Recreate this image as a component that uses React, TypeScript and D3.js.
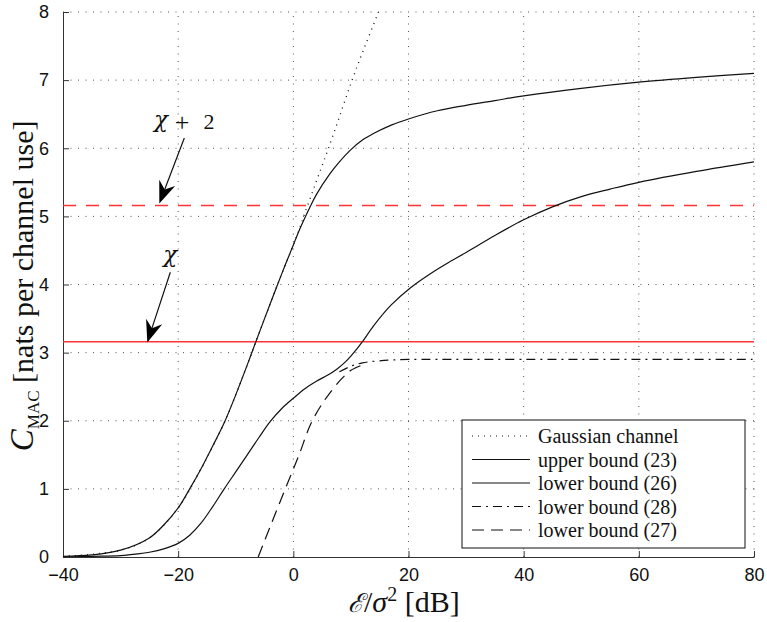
import React, {useEffect, useRef} from 'react'
import * as d3 from 'd3'

// axis ticks
const xTicks = [-40, -20, 0, 20, 40, 60, 80]
const yTicks = [0, 1, 2, 3, 4, 5, 6, 7, 8]

// Gaussian channel (dotted)
const gaussX = [-40, -30, -25, -20, -16, -12, -10, -8, -6.6, -4, -2, 0, 1.2, 2, 3.25, 4.5, 6.1, 8, 10.2, 12.3, 14.5, 15]
const gaussY = [0.01, 0.1, 0.28, 0.72, 1.3, 1.97, 2.38, 2.82, 3.14, 3.72, 4.16, 4.58, 4.85, 5.05, 5.34, 5.63, 6.0, 6.46, 7.0, 7.47, 7.94, 8.06]

// upper bound (23)
const upperX = [-40, -35, -30, -25, -22.5, -20, -18, -16, -14, -12, -10, -8, -6.6, -4, -2, 0, 1.2, 2.8, 4, 6.4, 8, 10, 12, 14, 17, 20, 25, 30, 35, 40, 50, 60, 70, 80]
const upperY = [0.01, 0.03, 0.1, 0.28, 0.47, 0.72, 1.0, 1.3, 1.63, 1.97, 2.38, 2.82, 3.14, 3.72, 4.16, 4.58, 4.83, 5.12, 5.32, 5.63, 5.8, 5.98, 6.12, 6.22, 6.34, 6.43, 6.55, 6.63, 6.7, 6.77, 6.88, 6.97, 7.04, 7.1]

// lower bound (26)
const lower26X = [-40, -35, -30, -27, -25, -22.5, -20, -18, -16, -14, -12, -10, -8, -6, -4, -2, 0, 2, 4, 6, 7.6, 9, 10, 11, 12, 14, 17, 20.3, 24, 27.3, 30, 35, 40, 45, 50, 55, 60, 70, 80]
const lower26Y = [0, 0.01, 0.02, 0.045, 0.07, 0.12, 0.2, 0.32, 0.5, 0.74, 1.0, 1.25, 1.5, 1.75, 1.99, 2.18, 2.33, 2.47, 2.58, 2.67, 2.76, 2.86, 2.95, 3.05, 3.16, 3.4, 3.7, 3.95, 4.17, 4.34, 4.47, 4.72, 4.95, 5.14, 5.29, 5.4, 5.5, 5.66, 5.8]

// lower bound (28) (dash-dot)
const lower28X = [8, 10, 12, 15, 20, 30, 50, 80]
const lower28Y = [2.72, 2.8, 2.85, 2.88, 2.9, 2.9, 2.9, 2.9]

// lower bound (27) (dashed)
const lower27X = [-6.1, -4, -1.4, 1, 3, 5, 6.1, 8.2, 10, 12]
const lower27Y = [0, 0.45, 1.0, 1.5, 1.95, 2.25, 2.38, 2.6, 2.74, 2.82]

const chi = 3.16
const chiPlus2 = 5.16

const legendNames = ['Gaussian channel', 'upper bound (23)', 'lower bound (26)', 'lower bound (28)', 'lower bound (27)']
const legendDash = ['1,5', null, null, '9,5,2,5', '12,7']

const zip = (xs: number[], ys: number[]) => xs.map((x, i) => [x, ys[i]] as [number, number])

export default function App() {
  const ref = useRef<SVGSVGElement>(null)

  useEffect(() => {
    document.body.style.margin = '0'
    const svg = d3.select(ref.current)
    svg.selectAll('*').remove()

    const x = d3.scaleLinear().domain([-40, 80]).range([63, 754])
    const y = d3.scaleLinear().domain([0, 8]).range([557, 12])
    const [x0, x1] = x.range()
    const [y0, y1] = y.range()

    svg.append('defs').append('clipPath').attr('id', 'plot')
      .append('rect').attr('x', x0).attr('y', y1).attr('width', x1 - x0).attr('height', y0 - y1)

    // dotted grid
    const grid = svg.append('g').attr('stroke', '#555').attr('stroke-width', 1).attr('stroke-dasharray', '1,6.5')
    grid.selectAll('line.v').data(xTicks.slice(1)).enter().append('line')
      .attr('x1', (d) => x(d)).attr('x2', (d) => x(d)).attr('y1', y0).attr('y2', y1)
    grid.selectAll('line.h').data(yTicks.slice(1)).enter().append('line')
      .attr('y1', (d) => y(d)).attr('y2', (d) => y(d)).attr('x1', x0).attr('x2', x1)

    // axes
    const xAxis = d3.axisBottom(x).tickValues(xTicks).tickSizeInner(-6).tickSizeOuter(0).tickPadding(11)
      .tickFormat((d) => d3.format('')(d as number))
    const yAxis = d3.axisLeft(y).tickValues(yTicks).tickSizeInner(-6).tickSizeOuter(0).tickPadding(14)
    const gx = svg.append('g').attr('transform', `translate(0,${y0})`).call(xAxis)
    const gy = svg.append('g').attr('transform', `translate(${x0},0)`).call(yAxis)
    for (const g of [gx, gy]) {
      g.select('.domain').attr('stroke', '#333')
      g.selectAll('.tick line').attr('stroke', '#333')
      g.selectAll('.tick text').attr('fill', '#111').style('font-family', '"Liberation Sans", Arial, sans-serif').style('font-size', '18px')
    }

    // reference lines
    svg.append('line').attr('x1', x0).attr('x2', x1).attr('y1', y(chi)).attr('y2', y(chi))
      .attr('stroke', '#f33').attr('stroke-width', 1.3)
    svg.append('line').attr('x1', x0).attr('x2', x1).attr('y1', y(chiPlus2)).attr('y2', y(chiPlus2))
      .attr('stroke', '#f33').attr('stroke-width', 1.3).attr('stroke-dasharray', '13,10')

    const line = d3.line<[number, number]>().x((d) => x(d[0])).y((d) => y(d[1])).curve(d3.curveCatmullRom.alpha(0.5))
    const curves = svg.append('g').attr('clip-path', 'url(#plot)').attr('fill', 'none').attr('stroke', '#111')
    const series = [
      {data: zip(gaussX, gaussY), dash: '1,5'},
      {data: zip(upperX, upperY), dash: null},
      {data: zip(lower26X, lower26Y), dash: null},
      {data: zip(lower28X, lower28Y), dash: '9,5,2,5'},
      {data: zip(lower27X, lower27Y), dash: '12,7'},
    ]
    series.forEach((s) => {
      curves.append('path').attr('d', line(s.data)).attr('stroke-width', s.dash === '1,5' ? 1.3 : 1.2)
        .attr('stroke-dasharray', s.dash)
    })

    // annotations
    const arrow = (fx: number, fy: number, tx: number, ty: number) => {
      const ax = x(fx), ay = y(fy), bx = x(tx), by = y(ty)
      const ang = Math.atan2(by - ay, bx - ax)
      const L = 22, W = 8.5, N = 15
      const ux = Math.cos(ang), uy = Math.sin(ang)
      const px = -uy, py = ux
      const bx1 = bx - ux * L, by1 = by - uy * L
      const nx = bx - ux * N, ny = by - uy * N
      svg.append('line').attr('x1', ax).attr('y1', ay).attr('x2', nx).attr('y2', ny).attr('stroke', '#111').attr('stroke-width', 1.2)
      svg.append('path')
        .attr('d', `M${bx},${by}L${bx1 + px * W},${by1 + py * W}L${nx},${ny}L${bx1 - px * W},${by1 - py * W}Z`)
        .attr('fill', '#000')
    }
    arrow(-18.93, 6.15, -23.27, 5.19)
    arrow(-21.36, 4.18, -25.36, 3.15)

    const serif = '"Liberation Serif", "Times New Roman", serif'
    const greek = '"DejaVu Serif", "Liberation Serif", serif'
    const t1 = svg.append('text').attr('y', y(6.31)).style('font-family', serif).style('font-size', '22px').attr('fill', '#111')
    t1.append('tspan').attr('x', x(-24.2)).style('font-family', greek).style('font-style', 'italic').style('font-size', '23px').text('χ')
    t1.append('tspan').attr('x', x(-20.6)).attr('dy', 4).style('font-size', '26px').text('+')
    t1.append('tspan').attr('x', x(-15.6)).attr('dy', -2).style('font-size', '22px').text('2')
    svg.append('text').attr('x', x(-22.6)).attr('y', y(4.33)).style('font-family', greek).style('font-size', '23px')
      .style('font-style', 'italic').attr('fill', '#111').text('χ')

    // axis labels
    const xl = svg.append('text').attr('x', 348).attr('y', 612).style('font-family', serif).style('font-size', '30px').attr('fill', '#111')
    xl.append('tspan').style('font-family', '"DejaVu Serif", serif').style('font-style', 'italic').style('font-size', '26px').text('ℰ')
    xl.append('tspan').text('/')
    xl.append('tspan').style('font-style', 'italic').text('σ')
    xl.append('tspan').attr('dy', -11).style('font-size', '20px').text('2')
    xl.append('tspan').attr('dy', 11).text('\u00a0[dB]')

    const yl = svg.append('text').attr('transform', `translate(33,${y(3.98)}) rotate(-90)`).attr('text-anchor', 'middle')
      .style('font-family', serif).style('font-size', '30px').attr('fill', '#111')
    yl.append('tspan').style('font-style', 'italic').style('font-size', '33px').text('C')
    yl.append('tspan').attr('dy', 6).style('font-size', '17px').text('MAC')
    yl.append('tspan').attr('dy', -6).text('\u00a0[nats per channel use]')

    // legend
    const lg = svg.append('g')
    lg.append('rect').attr('x', 462).attr('y', 420).attr('width', 283).attr('height', 128)
      .attr('fill', '#fff').attr('stroke', '#111').attr('stroke-width', 1)
    legendNames.forEach((name, i) => {
      const ry = 436 + i * 23.5
      lg.append('line').attr('x1', 472).attr('x2', 530).attr('y1', ry).attr('y2', ry)
        .attr('stroke', '#111').attr('stroke-width', 1.2).attr('stroke-dasharray', legendDash[i])
      lg.append('text').attr('x', 538).attr('y', ry + 7).style('font-family', serif).style('font-size', '20px')
        .attr('fill', '#111').text(name)
    })
  }, [])

  return <svg ref={ref} width={767} height={622} style={{display: 'block', background: '#fff'}} />
}
